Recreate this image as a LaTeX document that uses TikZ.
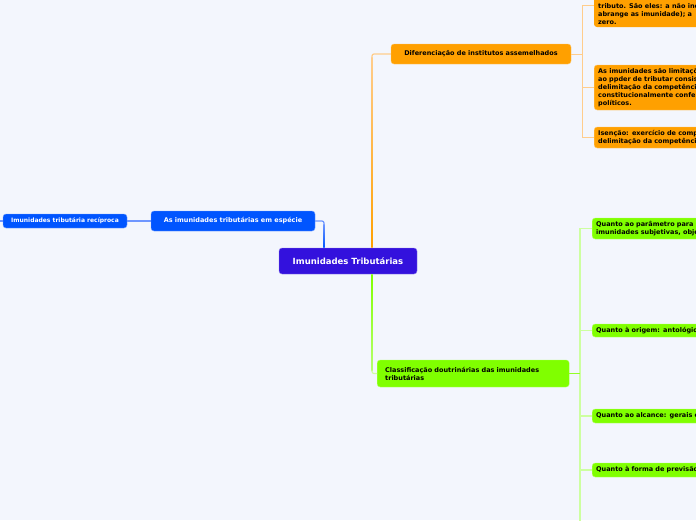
\documentclass[tikz,border=0pt]{standalone}
\usepackage{fontspec}
\setmainfont{DejaVu Sans}
\definecolor{bg}{RGB}{243,246,253}
\definecolor{cen}{RGB}{51,17,221}
\definecolor{blu}{RGB}{0,85,255}
\definecolor{blul}{RGB}{110,150,255}
\definecolor{org}{RGB}{255,160,0}
\definecolor{orgl}{RGB}{255,205,140}
\definecolor{grn}{RGB}{128,255,0}
\definecolor{grnl}{RGB}{205,255,160}
\tikzset{
  box/.style={rounded corners=3pt, inner ysep=0pt, inner xsep=4pt, align=left,
    font=\bfseries\fontsize{6.5}{8}\selectfont},
  cbox/.style={box, fill=cen, draw=cen!55!white, text=white, align=center,
    font=\bfseries\fontsize{8.5}{10}\selectfont, minimum width=138pt, minimum height=26pt},
  bbox/.style={box, fill=blu, draw=blu!55!white, text=white, align=center},
  obox/.style={box, fill=org, draw=org!60!white, text=black},
  gbox/.style={box, fill=grn, draw=grn!60!white, text=black},
  bconn/.style={draw=blul, line width=1.2pt, rounded corners=2pt},
  oconn/.style={draw=orgl, line width=1.2pt, rounded corners=2pt},
  gconn/.style={draw=grnl, line width=1.2pt, rounded corners=2pt},
  oconnt/.style={draw=orgl, line width=0.9pt},
  gconnt/.style={draw=grnl, line width=1.1pt},
}
\begin{document}
\begin{tikzpicture}[x=1pt,y=-1pt]
\useasboundingbox (0,0) rectangle (696,520);
\clip (0,0) rectangle (696,520);
\fill[bg] (0,0) rectangle (696,520);

% nodes
\node[cbox] (c) at (348,261) {Imunidades Tributárias};
\node[bbox, minimum width=164pt, minimum height=20pt] (esp) at (233,221) {As imunidades tributárias em espécie};
\node[bbox, minimum width=124pt, minimum height=14pt, font=\bfseries\fontsize{6}{7}\selectfont] (rec) at (65,221) {Imunidades tributária recíproca};
\node[obox, align=center, minimum width=180pt, minimum height=20pt] (dif) at (481,54) {Diferenciação de institutos assemelhados};
\node[gbox, anchor=west, text width=176pt, inner xsep=8pt, minimum height=27pt] (gr) at (377,373.5) {Classificação doutrinárias das imunidades\\tributárias};

% orange children
\fill[org, rounded corners=3pt] (594,-12) rectangle (780,27);
\node[box, anchor=west, text=black] (o1) at (594,13.5) {tributo. São eles: a não incidência\\abrange as imunidade); a\\zero.};
\node[obox, anchor=west, text width=200pt, minimum height=45pt] (o2) at (594,87.5) {As imunidades são limitações\\ao ppder de tributar consiste\\delimitação da competência\\constitucionalmente conferida\\políticos.};
\node[obox, anchor=west, text width=200pt, minimum height=21pt] (o3) at (594,137.5) {Isenção: exercício de competência\\delimitação da competência};

% green children
\node[gbox, anchor=west, text width=200pt, minimum height=21pt] (g1) at (592,228.5) {Quanto ao parâmetro para\\imunidades subjetivas, objetivas};
\node[gbox, anchor=west, text width=200pt, minimum height=13pt] (g2) at (592,330.5) {Quanto à origem: antológicas};
\node[gbox, anchor=west, text width=200pt, minimum height=14pt] (g3) at (592,416) {Quanto ao alcance: gerais e};
\node[gbox, anchor=west, text width=200pt, minimum height=14pt] (g4) at (592,470) {Quanto à forma de previsão};

% coordinates
\coordinate (ob) at (582,54);
\coordinate (o1w) at (594,5);
\coordinate (gb) at (580,373.5);
\coordinate (gend) at (580,530);
\coordinate (rend) at (-5,221);

% connectors
\draw[bconn] (esp.east) -| ([xshift=-24pt]c.north);
\shade[top color=blul, bottom color=blu] ([xshift=-24.6pt,yshift=-3pt]c.north |- esp.east) rectangle ([xshift=-23.4pt]c.north);
\draw[bconn] (rec.east) -- (esp.west);
\draw[bconn] (rec.west) -- (rend);
\draw[oconn] ([xshift=24pt]c.north) |- (dif.west);
\shade[top color=orgl, bottom color=org] ([xshift=23.4pt,yshift=-3pt]c.north |- dif.west) rectangle ([xshift=24.6pt]c.north);
\draw[gconn] ([xshift=24pt]c.south) |- (gr.west);
\shade[top color=grn, bottom color=grnl!70!grn] ([xshift=23.4pt]c.south) rectangle ([xshift=24.6pt,yshift=3pt]c.south |- gr.west);

\draw[oconnt] (dif.east) -- (ob);
\draw[oconnt] (ob) |- (o1w);
\draw[oconnt] (ob) |- (o2.west);
\draw[oconnt] (ob) |- (o3.west);

\draw[gconnt] (gb) |- (g1.west);
\draw[gconnt] (gb) |- (g2.west);
\draw[gconnt] (gb) |- (g3.west);
\draw[gconnt] (gb) |- (g4.west);
\draw[gconnt] (gb) -- (gend);
\draw[draw=grn!85!white, line width=1.1pt] (gr.east) -- (gb);
\end{tikzpicture}
\end{document}
